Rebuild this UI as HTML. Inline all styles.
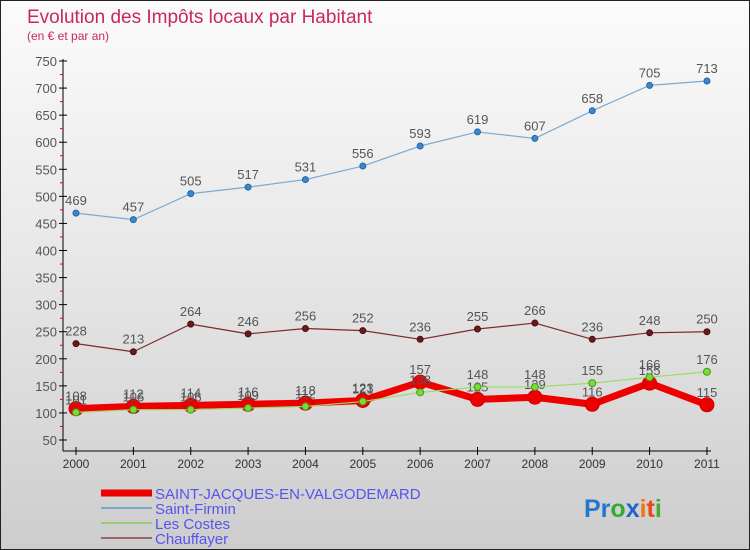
<!DOCTYPE html>
<html><head><meta charset="utf-8"><style>
body{margin:0}
#c{width:750px;height:550px;position:relative;background:linear-gradient(#fbfbfb,#e6e6e6 50%,#cdcdcd);box-sizing:border-box;border:1px solid #222;overflow:hidden;font-family:"Liberation Sans",sans-serif}
</style></head><body>
<div id="c">
<svg id="s" width="750" height="550" style="position:absolute;left:0;top:0">
<text x="26" y="22" font-size="19" fill="#c8285a">Evolution des Impôts locaux par Habitant</text>
<text x="26" y="39" font-size="12" fill="#c8285a">(en € et par an)</text>
<g id="g"></g>
<g>
<line x1="100" y1="492" x2="151" y2="492" stroke="#e00" stroke-width="7"/>
<text x="154" y="498" font-size="15" fill="#5555ee">SAINT-JACQUES-EN-VALGODEMARD</text>
<line x1="100" y1="507" x2="151" y2="507" stroke="#7aa8cc" stroke-width="2"/>
<text x="154" y="513" font-size="15" fill="#5555ee">Saint-Firmin</text>
<line x1="100" y1="522" x2="151" y2="522" stroke="#99cc77" stroke-width="2"/>
<text x="154" y="528" font-size="15" fill="#5555ee">Les Costes</text>
<line x1="100" y1="537" x2="151" y2="537" stroke="#996666" stroke-width="2"/>
<text x="154" y="543" font-size="15" fill="#5555ee">Chauffayer</text>
</g>
<text x="583" y="516" font-size="25" font-weight="bold"><tspan fill="#2277cc">Pr</tspan><tspan fill="#33aa33">o</tspan><tspan fill="#2266cc">x</tspan><tspan fill="#ee7711">i</tspan><tspan fill="#ee4411">t</tspan><tspan fill="#44aa33">i</tspan></text>
</svg>
</div>
<script>
const years=[2000,2001,2002,2003,2004,2005,2006,2007,2008,2009,2010,2011];
const yTicks=[50,100,150,200,250,300,350,400,450,500,550,600,650,700,750];
const stJacques=[108,112,114,116,118,123,157,125,129,116,155,115];
const stFirmin=[469,457,505,517,531,556,593,619,607,658,705,713];
const lesCostes=[101,106,106,109,112,121,138,148,148,155,166,176];
const chauffayer=[228,213,264,246,256,252,236,255,266,236,248,250];
const NS="http://www.w3.org/2000/svg",g=document.getElementById('g');
const X=i=>75+i*57.36, Y=v=>439-(v-50)*(379/700);
function mk(t,a,p){const e=document.createElementNS(NS,t);for(const k in a)e.setAttribute(k,a[k]);(p||g).appendChild(e);return e;}
let ax=mk('line',{x1:62,y1:58,x2:62,y2:450,stroke:'#000'});


let bx=mk('line',{x1:62,y1:450,x2:710,y2:450,stroke:'#000'});


yTicks.forEach((v,i)=>{const y=Y(v);
mk('line',{x1:58,y1:y,x2:66,y2:y,stroke:'#000'});
if(i<yTicks.length-1)mk('line',{x1:59,y1:Y(v+25),x2:62,y2:Y(v+25),stroke:'#e00'});
const t=mk('text',{x:56,y:y+5,'font-size':13,fill:'#555','text-anchor':'end'});t.textContent=v;

});
years.forEach((yr,i)=>{mk('line',{x1:X(i),y1:446,x2:X(i),y2:454,stroke:'#000'});
const t=mk('text',{x:X(i),y:467,'font-size':12,fill:'#333','text-anchor':'middle'});t.textContent=yr;

});
function series(d,name,col,w,r,fill,stroke){
const p=mk('polyline',{points:d.map((v,i)=>X(i)+','+Y(v)).join(' '),fill:'none',stroke:col,'stroke-width':w,'stroke-linejoin':'round'});


d.forEach((v,i)=>{const c=mk('circle',{cx:X(i),cy:Y(v),r:r,fill:fill,stroke:stroke});


const t=mk('text',{x:X(i),y:Y(v)-8,'font-size':13,fill:'#555','text-anchor':'middle'});t.textContent=v;

});}
series(chauffayer,'chauffayer','#7a2a2a',1.2,3,'#6a1a1a','#4a1010');
series(stFirmin,'saint-firmin','#7aaad4',1.2,3,'#3a88cc','#2266aa');
series(stJacques,'saint-jacques','#ee0000',7,7,'#ee0000','#cc0000');
series(lesCostes,'les-costes','#99dd66',1.2,3.5,'#77dd33','#449922');
</script>
</body></html>
